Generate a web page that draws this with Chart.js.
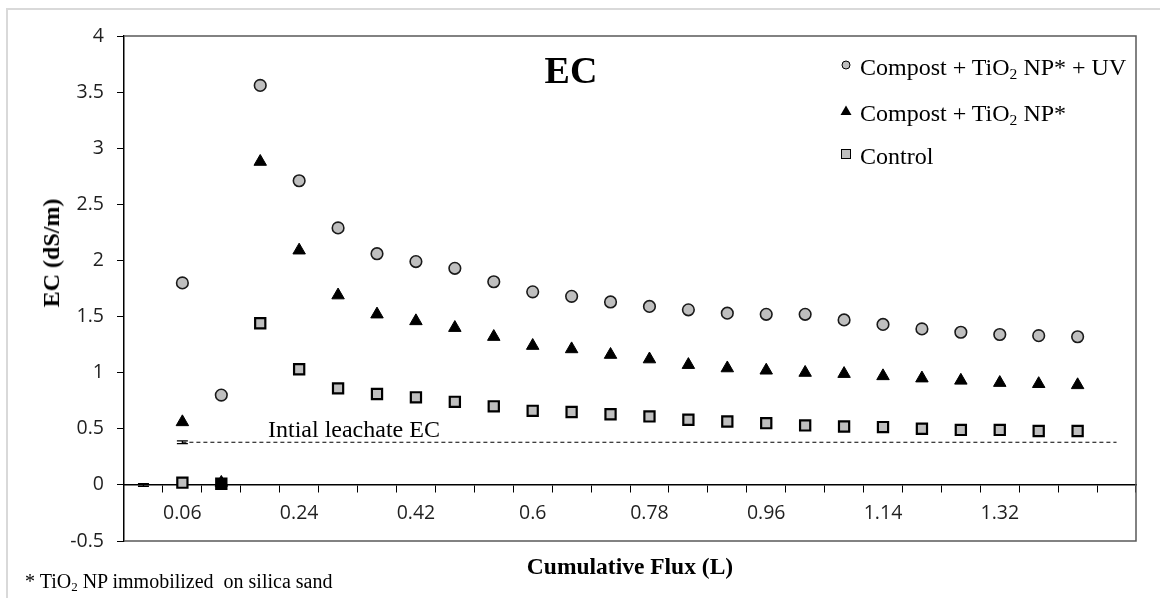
<!DOCTYPE html>
<html><head><meta charset="utf-8">
<script src="https://cdn.jsdelivr.net/npm/chart.js@4.4.1/dist/chart.umd.min.js"></script>
<style>
html,body{margin:0;padding:0;width:1160px;height:598px;overflow:hidden;background:#fff;}
#wrap{position:relative;width:1160px;height:598px;overflow:hidden;}
#frame{position:absolute;left:6px;top:8px;width:1300px;height:800px;border:2px solid #d9d9d9;box-sizing:border-box;}
canvas{position:absolute;left:0;top:0;}
.txt{position:absolute;font-family:"Liberation Serif","Times New Roman",serif;color:#000;white-space:nowrap;line-height:1;}
.sub{font-size:0.65em;vertical-align:-0.25em;}
#title{font-weight:bold;font-size:38px;left:571px;top:51px;transform:translateX(-50%);}
#ytitle{font-weight:bold;font-size:24px;left:51px;top:253px;transform:translate(-50%,-50%) rotate(-90deg);}
#initial{font-size:24px;left:268px;top:417px;}
#foot{font-size:20px;left:25px;top:571px;}
.leg{font-size:24px;left:860px;}
.mk{position:absolute;}
</style></head>
<body><div id="wrap"><div id="frame"></div><canvas id="c" width="1160" height="598"></canvas>
<div class="txt" id="title">EC</div>
<div class="txt" id="ytitle">EC (dS/m)</div>
<div class="txt" id="initial">Intial leachate EC</div>
<div class="txt" id="foot">* TiO<span class="sub">2</span> NP immobilized&nbsp; on silica sand</div>
<div id="legend"></div>
</div>
<script>
// ---- data ----
const categories = ['0','0.06','0.12','0.18','0.24','0.3','0.36','0.42','0.48','0.54','0.6','0.66','0.72','0.78','0.84','0.9','0.96','1.02','1.08','1.14','1.2','1.26','1.32','1.38','1.44','1.5'];
const tickLabels = ['0.06','0.24','0.42','0.6','0.78','0.96','1.14','1.32'];
const nameUV = 'Compost + TiO₂ NP* + UV';
const nameNP = 'Compost + TiO₂ NP*';
const nameCtrl = 'Control';
const compostUV = [null, 1.80, 0.80, 3.56, 2.71, 2.29, 2.06, 1.99, 1.93, 1.81, 1.72, 1.68, 1.63, 1.59, 1.56, 1.53, 1.52, 1.52, 1.47, 1.43, 1.39, 1.36, 1.34, 1.33, 1.32, null];
const compostNP = [null, 0.56, 0.02, 2.88, 2.09, 1.69, 1.52, 1.46, 1.40, 1.32, 1.24, 1.21, 1.16, 1.12, 1.07, 1.04, 1.02, 1.00, 0.99, 0.97, 0.95, 0.93, 0.91, 0.90, 0.89, null];
const control   = [null, 0.02, 0.01, 1.44, 1.03, 0.86, 0.81, 0.78, 0.74, 0.70, 0.66, 0.65, 0.63, 0.61, 0.58, 0.565, 0.55, 0.53, 0.52, 0.515, 0.50, 0.49, 0.49, 0.48, 0.48, null];
const initialLeachate = [null, 0.38, 0.38, 0.38, 0.38, 0.38, 0.38, 0.38, 0.38, 0.38, 0.38, 0.38, 0.38, 0.38, 0.38, 0.38, 0.38, 0.38, 0.38, 0.38, 0.38, 0.38, 0.38, 0.38, 0.38, 0.38];
const errorCats = ['0', '0.06'];
const errorValues = [0, 0.38];
const errorSizes = [0.012, 0.012];
const yTicksMin = -0.5, yTicksMax = 4, yStep = 0.5;

// ---- legend (HTML, real text) ----
const GREY = '#bfbfbf';
function subHtml(s){ return s.replace('₂','<span class="sub">2</span>'); }
const legItems = [
  {name:nameUV, baseline:75, mk:'circle'},
  {name:nameNP, baseline:121, mk:'triangle'},
  {name:nameCtrl, baseline:164, mk:'square'}
];
const legDiv = document.getElementById('legend');
legItems.forEach(it=>{
  const t = document.createElement('div');
  t.className='txt leg'; t.style.top=(it.baseline-20)+'px'; t.innerHTML=subHtml(it.name);
  legDiv.appendChild(t);
  const cy = it.baseline-10;
  const svg = document.createElementNS('http://www.w3.org/2000/svg','svg');
  svg.setAttribute('width','14'); svg.setAttribute('height','14');
  svg.setAttribute('class','mk'); svg.style.left=(846-7)+'px'; svg.style.top=(cy-7)+'px';
  let sh;
  if(it.mk==='circle'){ sh=`<circle cx="7" cy="7" r="4" fill="${GREY}" stroke="#000" stroke-width="1"/>`; }
  else if(it.mk==='triangle'){ sh=`<polygon points="7,1.5 12.5,11 1.5,11" fill="#000"/>`; }
  else { sh=`<rect x="2.5" y="2.5" width="9" height="9" fill="${GREY}" stroke="#000" stroke-width="1"/>`; }
  svg.innerHTML=sh; legDiv.appendChild(svg);
});

// ---- plugins ----
const framePlugin = {
  id:'frame',
  afterDatasetsDraw(chart){
    const {ctx, chartArea:a} = chart;
    ctx.save(); ctx.strokeStyle='#595959'; ctx.lineWidth=1.5;
    ctx.beginPath();
    ctx.moveTo(a.left, a.top); ctx.lineTo(a.right, a.top); ctx.lineTo(a.right, a.bottom); ctx.lineTo(a.left, a.bottom);
    ctx.stroke(); ctx.restore();
  }
};
const errorPlugin = {
  id:'errbars',
  afterDatasetsDraw(chart){
    const {ctx, scales} = chart;
    ctx.save(); ctx.strokeStyle='#000'; ctx.lineWidth=1.3;
    errorCats.forEach((c,k)=>{
      const x = scales.x.getPixelForValue(categories.indexOf(c));
      const y1 = scales.y.getPixelForValue(errorValues[k]-errorSizes[k]);
      const y2 = scales.y.getPixelForValue(errorValues[k]+errorSizes[k]);
      ctx.beginPath();
      ctx.moveTo(x, y1); ctx.lineTo(x, y2);
      ctx.moveTo(x-5.5, y1); ctx.lineTo(x+5.5, y1);
      ctx.moveTo(x-5.5, y2); ctx.lineTo(x+5.5, y2);
      ctx.stroke();
    });
    ctx.restore();
  }
};

const tickFont = {family:'"Open Sans", "DejaVu Sans", sans-serif', size:19.5};
new Chart(document.getElementById('c'), {
  type:'line',
  data:{
    labels:categories,
    datasets:[
      {label:nameUV, data:compostUV, showLine:false, pointStyle:'circle', pointRadius:5.8, pointBorderWidth:1.6,
       backgroundColor:GREY, borderColor:'#1a1a1a'},
      {label:nameNP, data:compostNP, showLine:false, pointStyle:'triangle', pointRadius:7.2, pointBorderWidth:1,
       backgroundColor:'#000', borderColor:'#000'},
      {label:nameCtrl, data:control, showLine:false, pointStyle:'rect', pointRadius:7.2, pointBorderWidth:2.2,
       backgroundColor:(c)=> c.dataIndex===2 ? '#000' : GREY, borderColor:'#000'},
      {label:'Intial leachate EC', data:initialLeachate, showLine:true, pointRadius:0, borderColor:'#000',
       borderWidth:1.2, borderDash:[4,3], fill:false, spanGaps:false}
    ]
  },
  options:{
    responsive:false, animation:false, devicePixelRatio:1,
    layout:{padding:{top:36, right:24, left:0, bottom:0}},
    plugins:{legend:{display:false}, tooltip:{enabled:false}},
    scales:{
      x:{
        type:'category', position:{y:0}, offset:true,
        grid:{display:true, drawOnChartArea:false, drawTicks:true, tickLength:7, offset:true, color:'#000', lineWidth:1},
        border:{display:true, color:'#000', width:1.5},
        ticks:{autoSkip:false, maxRotation:0, minRotation:0, padding:10, color:'#1f1f1f', font:tickFont,
          callback:(v,i)=> tickLabels.includes(categories[i]) ? categories[i] : ''}
      },
      xb:{
        type:'category', position:'bottom', labels:categories, offset:true,
        grid:{display:false}, border:{display:false}, ticks:{display:false},
        title:{display:true, text:'Cumulative Flux (L)', color:'#000',
          font:{family:'"Liberation Serif", "Times New Roman", serif', size:23.5, weight:'bold'},
          padding:{top:0, bottom:16}},
        afterFit:(s)=>{ s.height = 57; }
      },
      y:{
        position:'left', min:yTicksMin, max:yTicksMax,
        ticks:{stepSize:yStep, padding:13, color:'#1f1f1f', font:tickFont, callback:(v)=> String(Number(v))},
        grid:{drawOnChartArea:false, tickLength:7, color:'#000'},
        border:{color:'#000', width:1.5},
        afterFit:(s)=>{ s.width = 124; }
      }
    }
  },
  plugins:[framePlugin, errorPlugin]
});
</script>
</body></html>
